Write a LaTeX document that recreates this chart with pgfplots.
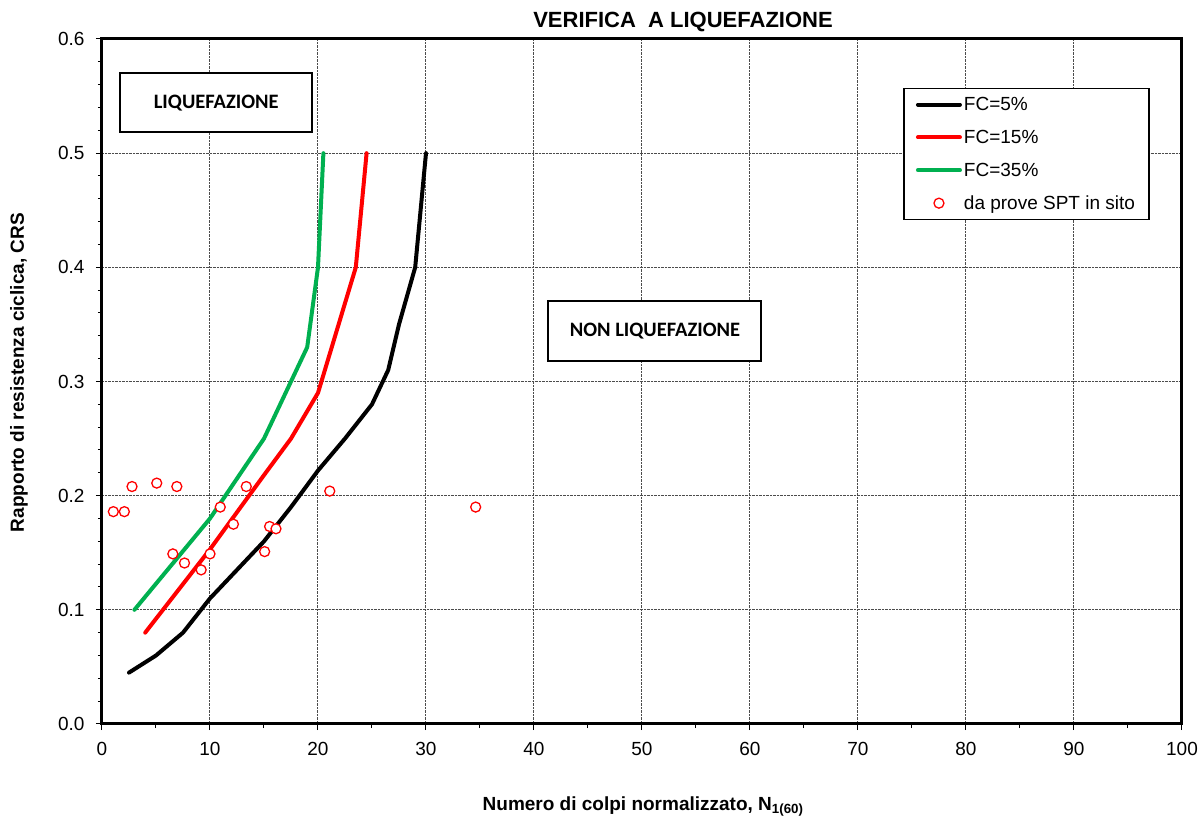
\documentclass[border=0pt]{standalone}
\usepackage{fontspec}
\setmainfont{Liberation Sans}
\newfontfamily\carlito{Carlito}
\usepackage{pgfplots}
\pgfplotsset{compat=1.18}
\definecolor{xlgreen}{RGB}{0,176,80}
\newcommand{\bigfont}{\fontsize{19}{22}\selectfont}
\pgfplotsset{
  lineleg/.style={legend image code/.code={\draw[##1] (0pt,0pt) -- (42pt,0pt);}},
  circleleg/.style={legend image code/.code={\draw[mark repeat=2, mark phase=2, ##1]
    plot coordinates {(0pt,0pt) (21pt,0pt) (42pt,0pt)};}},
}
\begin{document}
\begin{tikzpicture}
\path[use as bounding box] (-102pt,-95pt) rectangle (1101pt,724pt);
\begin{axis}[
  at={(0,0)}, anchor=south west,
  scale only axis, width=1080pt, height=685pt,
  xmin=0, xmax=100, ymin=0, ymax=0.6,
  xtick={0,10,20,30,40,50,60,70,80,90,100},
  ytick={0,0.1,0.2,0.3,0.4,0.5,0.6},
  minor x tick num=1, minor y tick num=4,
  tick pos=left, tick align=outside,
  major tick length=6pt, minor tick length=4pt,
  tick style={black, line width=1pt},
  axis line style={line width=3pt},
  grid=major,
  major grid style={densely dotted, black!70, line width=1pt},
  ticklabel style={font=\bigfont},
  /pgf/number format/assume math mode=true,
  xticklabel style={yshift=-9pt},
  yticklabel style={xshift=-8pt, /pgf/number format/.cd, fixed, fixed zerofill, precision=1},
  legend style={at={(0.742,0.929)}, anchor=north west, draw=black,
    line width=1.2pt, font=\bigfont, row sep=14pt, inner xsep=12pt, inner ysep=7pt,
    /tikz/every even column/.append style={column sep=0pt}},
  legend cell align=left,
  lineleg,
  clip=false,
]
\addplot[black, line width=4pt, line join=round, line cap=round] coordinates {
  (2.5,0.045) (5,0.06) (7.5,0.08) (10,0.11) (12.5,0.135) (15,0.16)
  (17.5,0.19) (20,0.222) (22.5,0.25) (25,0.28) (26.5,0.31) (27.5,0.35)
  (29,0.4) (30,0.5)
};
\addlegendentry{FC=5\%}
\addplot[red, line width=4pt, line join=round, line cap=round] coordinates {
  (4,0.08) (10,0.153) (15,0.218) (17.5,0.25) (20,0.29) (23.5,0.4) (24.5,0.5)
};
\addlegendentry{FC=15\%}
\addplot[xlgreen, line width=4pt, line join=round, line cap=round] coordinates {
  (3,0.1) (10,0.18) (15,0.25) (19,0.33) (20,0.4) (20.5,0.5)
};
\addlegendentry{FC=35\%}
\addplot[only marks, mark=*, mark size=5pt,
  mark options={draw=red, fill=white, line width=1.3pt}, circleleg] coordinates {
  (1.05,0.186) (2.07,0.186) (2.78,0.208) (5.07,0.211) (6.93,0.208)
  (6.56,0.149) (7.64,0.141) (9.18,0.135) (10.0,0.149) (10.95,0.190)
  (12.17,0.175) (13.36,0.208) (15.06,0.151) (15.52,0.173) (16.11,0.171)
  (21.09,0.204) (34.6,0.190)
};
\addlegendentry{da prove SPT in sito}
\node[draw=black, fill=white, line width=2pt, minimum width=192pt, minimum height=59pt,
  font=\carlito\bfseries\fontsize{20.5}{24}\selectfont] at (axis cs:10.58,0.544) {LIQUEFAZIONE};
\node[draw=black, fill=white, line width=2pt, minimum width=213pt, minimum height=60pt,
  font=\carlito\bfseries\fontsize{20.5}{24}\selectfont] at (axis cs:51.2,0.344) {NON LIQUEFAZIONE};
\node[anchor=base, font=\bfseries\fontsize{22}{26}\selectfont]
  at ([yshift=11pt]rel axis cs:0.538,1) {VERIFICA\ \ A LIQUEFAZIONE};
\node[anchor=base, rotate=90, font=\bfseries\bigfont]
  at ([xshift=-78pt]rel axis cs:0,0.513) {Rapporto di resistenza ciclica, CRS};
\node[anchor=base, font=\bfseries\bigfont]
  at ([yshift=-86pt]rel axis cs:0.501,0) {Numero di colpi normalizzato, N\textsubscript{1(60)}};
\end{axis}
\end{tikzpicture}
\end{document}
